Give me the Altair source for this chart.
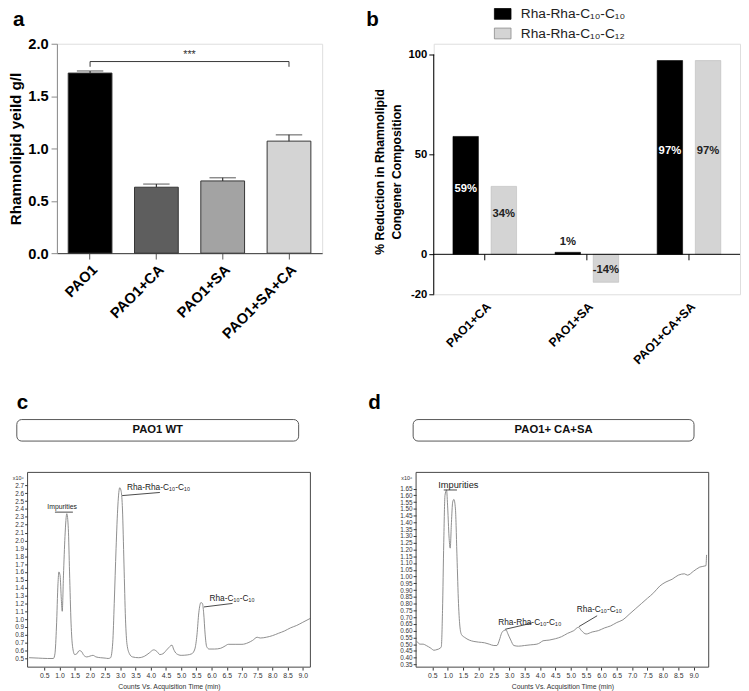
import altair as alt
import pandas as pd

FONT = "Liberation Sans"

# ---------------- data: panel a ----------------
a_groups = ["PAO1", "PAO1+CA", "PAO1+SA", "PAO1+SA+CA"]
a_values = [1.72, 0.63, 0.69, 1.07]
a_errors = [0.02, 0.03, 0.03, 0.06]
a_colors = ["#000000", "#5e5e5e", "#a3a3a3", "#d4d4d4"]
a_yticks = [0.0, 0.5, 1.0, 1.5, 2.0]
a_sig_level = [1.78, 1.83]
a_sig_text = "***"

# ---------------- data: panel b ----------------
b_groups = ["PAO1+CA", "PAO1+SA", "PAO1+CA+SA"]
b_series = ["Rha-Rha-C₁₀-C₁₀", "Rha-Rha-C₁₀-C₁₂"]
b_c10c10 = [59, 1, 97]
b_c10c12 = [34, -14, 97]
b_colors = ["#000000", "#d4d4d4"]
b_yticks = [-20, 0, 50, 100]
b_ytitle = ["% Reduction in Rhamnolipid", "Congener Composition"]

# ---------------- data: panel c (PAO1 WT chromatogram) ----------------
c_time = [0.0, 0.3, 0.6, 0.8, 0.85, 0.9, 0.95, 0.98, 1.02, 1.06, 1.09, 1.13, 1.18, 1.24,
          1.29, 1.33, 1.38, 1.43, 1.5, 1.57, 1.65, 1.72, 1.8, 1.9, 2.0, 2.1, 2.2, 2.35,
          2.5, 2.6, 2.68, 2.75, 2.8, 2.86, 2.92, 2.98, 3.03, 3.07, 3.12, 3.17, 3.22, 3.3,
          3.4, 3.6, 3.8, 3.95, 4.1, 4.2, 4.3, 4.4, 4.55, 4.7, 4.75, 4.85, 5.0, 5.2, 5.35,
          5.45, 5.52, 5.58, 5.65, 5.7, 5.74, 5.79, 5.84, 5.92, 6.1, 6.3, 6.45, 6.55, 6.8,
          7.0, 7.2, 7.35, 7.5, 7.6, 7.8, 8.0, 8.2, 8.4, 8.6, 8.8, 9.0, 9.25]
c_signal = [0.51, 0.505, 0.50, 0.50, 0.56, 0.9, 1.45, 1.60, 1.55, 1.25, 1.10, 1.55, 2.05, 2.34,
            2.15, 1.6, 0.95, 0.65, 0.55, 0.56, 0.60, 0.59, 0.54, 0.52, 0.53, 0.54, 0.52, 0.51,
            0.505, 0.50, 0.51, 0.7, 1.2, 1.9, 2.45, 2.67, 2.62, 2.4, 1.7, 1.0, 0.68, 0.56,
            0.52, 0.51, 0.53, 0.57, 0.61, 0.59, 0.55, 0.56, 0.62, 0.67, 0.62, 0.56, 0.54, 0.545, 0.56,
            0.62, 0.8, 1.08, 1.21, 1.2, 1.08, 0.8, 0.65, 0.62, 0.62, 0.63, 0.66, 0.68, 0.68,
            0.68, 0.70, 0.73, 0.77, 0.76, 0.77, 0.79, 0.82, 0.85, 0.89, 0.92, 0.96, 1.01]
c_xticks = [0.5, 1.0, 1.5, 2.0, 2.5, 3.0, 3.5, 4.0, 4.5, 5.0, 5.5, 6.0, 6.5, 7.0, 7.5, 8.0, 8.5, 9.0]
c_yticks = [0.5, 0.6, 0.7, 0.8, 0.9, 1.0, 1.1, 1.2, 1.3, 1.4, 1.5, 1.6, 1.7, 1.8, 1.9, 2.0,
            2.1, 2.2, 2.3, 2.4, 2.5, 2.6, 2.7]
c_labels = ["Impurities", "Rha-Rha-C₁₀-C₁₀", "Rha-C₁₀-C₁₀"]
c_label_t = [0.6, 3.22, 5.93]
c_label_s = [2.42, 2.68, 1.27]
c_label_size = [7, 8.5, 8.5]
c_lead_t1 = [0.85, 3.06, 5.75]
c_lead_s1 = [2.36, 2.57, 1.155]
c_lead_t2 = [1.44, 4.3, 6.69]
c_lead_s2 = [2.36, 2.61, 1.20]

# ---------------- data: panel d (PAO1+CA+SA chromatogram) ----------------
d_time = [0.0, 0.1, 0.2, 0.3, 0.45, 0.55, 0.65, 0.75, 0.79, 0.83, 0.87, 0.91, 0.96, 1.0,
          1.04, 1.08, 1.12, 1.16, 1.2, 1.25, 1.3, 1.35, 1.4, 1.45, 1.55, 1.7, 1.85, 2.0,
          2.2, 2.35, 2.5, 2.6, 2.68, 2.75, 2.82, 2.9, 2.95, 3.05, 3.15, 3.3, 3.5, 3.7, 3.9,
          4.0, 4.1, 4.3, 4.5, 4.7, 4.9, 5.1, 5.25, 5.35, 5.5, 5.7, 5.9, 6.1, 6.3, 6.5, 6.7,
          6.9, 7.1, 7.3, 7.5, 7.7, 7.9, 8.1, 8.3, 8.5, 8.7, 8.8, 9.0, 9.2, 9.4, 9.42]
d_signal = [0.52, 0.50, 0.50, 0.49, 0.47, 0.455, 0.46, 0.47, 0.48, 0.75, 1.25, 1.6, 1.64, 1.5,
            1.3, 1.21, 1.4, 1.55, 1.57, 1.5, 1.15, 0.8, 0.62, 0.57, 0.55, 0.53, 0.52, 0.515,
            0.51, 0.50, 0.49, 0.49, 0.53, 0.58, 0.60, 0.605, 0.58, 0.53, 0.49, 0.485, 0.49, 0.495, 0.50,
            0.51, 0.525, 0.53, 0.54, 0.555, 0.58, 0.60, 0.625, 0.60, 0.575, 0.59, 0.60, 0.62, 0.635, 0.66, 0.68,
            0.72, 0.76, 0.80, 0.84, 0.88, 0.93, 0.96, 0.98, 1.01, 1.02, 1.01, 1.04, 1.07, 1.08, 1.16]
d_xticks = c_xticks
d_yticks = [0.35, 0.40, 0.45, 0.50, 0.55, 0.60, 0.65, 0.70, 0.75, 0.80, 0.85, 0.90, 0.95, 1.00,
            1.05, 1.10, 1.15, 1.20, 1.25, 1.30, 1.35, 1.40, 1.45, 1.50, 1.55, 1.60, 1.65]
d_labels = ["Impurities", "Rha-Rha-C₁₀-C₁₀", "Rha-C₁₀-C₁₀"]
d_label_t = [0.69, 2.64, 5.2]
d_label_s = [1.68, 0.66, 0.76]
d_label_size = [9.5, 8.5, 8.5]
d_lead_t1 = [0.87, 2.87, 5.27]
d_lead_s1 = [1.64, 0.61, 0.63]
d_lead_t2 = [1.30, 3.73, 5.86]
d_lead_s2 = [1.64, 0.655, 0.71]


# ---------------- helpers ----------------
def one(**kw):
    return pd.DataFrame({k: [v] for k, v in kw.items()})


def panel_label(ch, dx, dy):
    return alt.Chart(one(t=ch)).mark_text(
        font=FONT, fontSize=21, fontWeight="bold", align="left", baseline="alphabetic", color="#000"
    ).encode(x=alt.value(dx), y=alt.value(dy), text="t:N")


def title_box(label, x1, x2, y1, y2):
    d = one(t=label)
    box = alt.Chart(d).mark_rect(fill="white", stroke="#555", strokeWidth=1, cornerRadius=5).encode(
        x=alt.value(x1), x2=alt.value(x2), y=alt.value(y1), y2=alt.value(y2))
    txt = alt.Chart(d).mark_text(font=FONT, fontSize=11.5, fontWeight="bold", align="center",
                                 baseline="middle", color="#111").encode(
        x=alt.value((x1 + x2) / 2), y=alt.value((y1 + y2) / 2), text="t:N")
    return [box, txt]


# ---------------- panel a ----------------
A_W, A_H = 271, 214
dfa = pd.DataFrame({"group": a_groups, "value": a_values,
                    "upper": [v + e for v, e in zip(a_values, a_errors)]})
xa_scale = alt.Scale(domain=a_groups, paddingInner=0.34, paddingOuter=0.17)
xa_axis = alt.Axis(title=None, labelAngle=-45, labelFontSize=15, labelFontWeight="bold",
                   labelColor="#000", domainColor="#333", tickColor="#555", tickSize=6,
                   labelPadding=3)
ya_scale = alt.Scale(domain=[0, 2], nice=False)
ya_axis = alt.Axis(title="Rhamnolipid yeild g/l", values=a_yticks, format=".1f", labelFontSize=15,
                   labelFontWeight="bold", labelColor="#000", titleFontSize=15.5,
                   titleFontWeight="bold", titleColor="#000", domainColor="#888",
                   tickColor="#888", tickSize=6, labelPadding=3, titlePadding=4, grid=False)

bars_a = alt.Chart(dfa).mark_bar(stroke="#333", strokeWidth=1).encode(
    x=alt.X("group:N", sort=a_groups, scale=xa_scale, axis=xa_axis),
    y=alt.Y("value:Q", scale=ya_scale, axis=ya_axis),
    color=alt.Color("group:N", scale=alt.Scale(domain=a_groups, range=a_colors), legend=None))
err_a = alt.Chart(dfa).mark_rule(color="#333", strokeWidth=1.2).encode(
    x=alt.X("group:N", sort=a_groups, axis=xa_axis),
    y=alt.Y("upper:Q", axis=ya_axis), y2="value:Q")
cap_a = alt.Chart(dfa).mark_tick(color="#333", size=27, thickness=1.2).encode(
    x=alt.X("group:N", sort=a_groups, axis=xa_axis),
    y=alt.Y("upper:Q", axis=ya_axis))
sig_df = pd.DataFrame({"group": [a_groups[0], a_groups[0], a_groups[3], a_groups[3]],
                       "lvl": [a_sig_level[0], a_sig_level[1], a_sig_level[1], a_sig_level[0]],
                       "o": [0, 1, 2, 3]})
sig_a = alt.Chart(sig_df).mark_line(color="#333", strokeWidth=1).encode(
    x=alt.X("group:N", sort=a_groups, axis=xa_axis),
    y=alt.Y("lvl:Q", axis=ya_axis), order="o:Q")
star_a = alt.Chart(one(t=a_sig_text, lvl=1.89)).mark_text(
    font=FONT, fontSize=11, color="#333", baseline="middle").encode(
    x=alt.value(A_W * 0.5), y=alt.Y("lvl:Q", axis=ya_axis), text="t:N")

panel_a = alt.layer(bars_a, err_a, cap_a, sig_a, star_a, panel_label("a", -45, -18)).properties(
    width=A_W, height=A_H)

# ---------------- panel b ----------------
B_W = 313
B_TOP = 105.4
B_H = 256
BAR_W = 26
BAR_SHIFT = 19.5
dfb = pd.DataFrame({"group": b_groups * 2,
                    "series": [b_series[0]] * 3 + [b_series[1]] * 3,
                    "sidx": [0] * 3 + [1] * 3,
                    "value": b_c10c10 + b_c10c12})
xb_scale = alt.Scale(domain=b_groups, paddingInner=0, paddingOuter=0)
xb_axis = alt.Axis(title=None, labelAngle=-45, labelFontSize=12.5, labelFontWeight="bold",
                   labelColor="#000", domain=False, ticks=False, labelPadding=6)
yb_scale = alt.Scale(domain=[-20, B_TOP], nice=False)
yb_axis = alt.Axis(title=None, values=b_yticks, labelExpr="toString(datum.value)",
                   labelFontSize=11.5, labelFontWeight="bold", labelColor="#000",
                   domain=False, tickColor="#000", tickSize=5, labelPadding=2, grid=False)

base_b = alt.Chart(dfb).transform_calculate(
    lbl="toString(datum.value) + '%'",
    ly="datum.value >= 5 ? datum.value / 2 + 3 : (datum.value <= -5 ? datum.value / 2 - 1 : datum.value + 5)",
    tc="(datum.sidx == 0 && datum.value >= 5) ? '#ffffff' : '#222222'")
b_layers = []
for k, shift in enumerate([-BAR_SHIFT, BAR_SHIFT]):
    sub = base_b.transform_filter(f"datum.sidx == {k}")
    b_layers.append(sub.mark_bar(width=BAR_W, xOffset=shift, color=b_colors[k],
                                 stroke=("#000" if k == 0 else "#bbbbbb"), strokeWidth=0.6).encode(
        x=alt.X("group:N", sort=b_groups, scale=xb_scale, axis=xb_axis),
        y=alt.Y("value:Q", scale=yb_scale, axis=yb_axis)))
    b_layers.append(sub.mark_text(font=FONT, fontSize=11.5, fontWeight="bold", baseline="middle",
                                  xOffset=shift).encode(
        x=alt.X("group:N", sort=b_groups, axis=xb_axis),
        y=alt.Y("ly:Q", axis=yb_axis),
        text="lbl:N",
        color=alt.Color("tc:N", scale=None)))
zero_b = alt.Chart(one(z=0)).mark_rule(color="#000", strokeWidth=1).encode(
    y=alt.Y("z:Q", axis=yb_axis))
yline_b = alt.Chart(one(lo=b_yticks[0], hi=b_yticks[-1])).mark_rule(
    color="#000", strokeWidth=1).encode(x=alt.value(0), y=alt.Y("lo:Q", axis=yb_axis), y2="hi:Q")
ticks_b = alt.Chart(pd.DataFrame({"group": b_groups, "z": [0] * 3, "zz": [-3] * 3})).mark_rule(
    color="#000", strokeWidth=1).encode(
    x=alt.X("group:N", sort=b_groups, axis=xb_axis, bandPosition=0.5),
    y=alt.Y("z:Q", axis=yb_axis), y2="zz:Q")

ytitle_b = [alt.Chart(one(t=line)).mark_text(
    font=FONT, fontSize=12.5, fontWeight="bold", angle=270, align="center", baseline="middle",
    color="#000").encode(x=alt.value(xp), y=alt.value(131), text="t:N")
    for line, xp in zip(b_ytitle, [-55, -37])]

LEG_X, LEG_Y, LEG_STEP = 62, -36, 20
leg_layers = []
for k, name in enumerate(b_series):
    y0 = LEG_Y + k * LEG_STEP
    leg_layers.append(alt.Chart(one(s=name)).mark_rect(
        fill=b_colors[k], stroke=("#000" if k == 0 else "#888"), strokeWidth=0.8).encode(
        x=alt.value(LEG_X), x2=alt.value(LEG_X + 17), y=alt.value(y0), y2=alt.value(y0 + 11)))
    leg_layers.append(alt.Chart(one(s=name)).mark_text(
        font=FONT, fontSize=14, align="left", baseline="middle", color="#222").encode(
        x=alt.value(LEG_X + 27), y=alt.value(y0 + 6), text="s:N"))

panel_b = alt.layer(*b_layers, zero_b, yline_b, ticks_b, *ytitle_b, *leg_layers,
                    panel_label("b", -69, -18)).properties(width=B_W, height=B_H)


# ---------------- panels c, d (one view, each panel on its own scales) ----------------
CD_H = 199


def chromatogram(times, signal, xticks, yticks, ydom, xdom, yfmt, lab, lab_t, lab_s, lab_size,
                 t1, s1, t2, s2, x0, W, letter, letter_x, box_label, box_x1, box_x2):
    # x0: left edge of this panel's frame inside the shared view
    df = pd.DataFrame({"t": times, "s": signal})
    xax = alt.Axis(title="Counts Vs. Acquisition Time (min)", values=xticks, format=".1f",
                   orient="bottom", labelFontSize=7, labelColor="#333", titleFontSize=7,
                   titleColor="#333", titleFontWeight="normal", tickColor="#333", tickSize=3,
                   domain=False, labelPadding=2, titlePadding=4, grid=False, labelOverlap=False)
    yax = alt.Axis(title=None, values=yticks, format=yfmt, orient="left", labelFontSize=6.5,
                   labelColor="#333", tickColor="#333", tickSize=3, domain=False, labelPadding=1,
                   grid=False, labelOverlap=False, offset=-x0)
    xs = alt.Scale(domain=xdom, nice=False, zero=False, range=[x0, x0 + W])
    ys = alt.Scale(domain=ydom, nice=False, zero=False, range=[CD_H, 0])
    line = alt.Chart(df).mark_line(color="#808080", strokeWidth=0.9, interpolate="monotone").encode(
        x=alt.X("t:Q", scale=xs, axis=xax), y=alt.Y("s:Q", scale=ys, axis=yax))
    dl = pd.DataFrame({"t1": t1, "s1": s1, "t2": t2, "s2": s2})
    leads = alt.Chart(dl).mark_rule(color="#333", strokeWidth=0.9).encode(
        x=alt.X("t1:Q", scale=xs, axis=xax), x2="t2:Q",
        y=alt.Y("s1:Q", scale=ys, axis=yax), y2="s2:Q")
    dt = pd.DataFrame({"lab": lab, "t": lab_t, "s": lab_s, "fs": lab_size})
    texts = alt.Chart(dt).mark_text(font=FONT, align="left", baseline="middle", color="#222").encode(
        x=alt.X("t:Q", scale=xs, axis=xax),
        y=alt.Y("s:Q", scale=ys, axis=yax), text="lab:N",
        size=alt.Size("fs:Q", scale=None, legend=None))
    frame = alt.Chart(one(k=0)).mark_rect(fill="transparent", stroke="#444", strokeWidth=1).encode(
        x=alt.value(x0), x2=alt.value(x0 + W), y=alt.value(0), y2=alt.value(CD_H))
    unit = alt.Chart(one(u="x10⁶")).mark_text(
        font=FONT, fontSize=5.5, align="right", baseline="middle", color="#333").encode(
        x=alt.value(x0 - 4), y=alt.value(6), text="u:N")
    return alt.layer(line, leads, texts, frame, unit,
                     *title_box(box_label, box_x1, box_x2, -54, -32),
                     panel_label(letter, letter_x, -65))


C_X0, C_W = -30, 289
D_X0, D_W = 367, 299
group_c = chromatogram(c_time, c_signal, c_xticks, c_yticks, [0.39, 2.865], [-0.05, 9.25], ".1f",
                       c_labels, c_label_t, c_label_s, c_label_size,
                       c_lead_t1, c_lead_s1, c_lead_t2, c_lead_s2,
                       C_X0, C_W, "c", -41, "PAO1 WT", -41, 247)
group_d = chromatogram(d_time, d_signal, d_xticks, d_yticks, [0.33, 1.77], [-0.03, 9.49], ".2f",
                       d_labels, d_label_t, d_label_s, d_label_size,
                       d_lead_t1, d_lead_s1, d_lead_t2, d_lead_s2,
                       D_X0, D_W, "d", 318, "PAO1+ CA+SA", 364, 651)
bottom = alt.layer(group_c, group_d).resolve_scale(
    x="independent", y="independent").properties(
    width=D_X0 + D_W, height=CD_H,
    view=alt.ViewBackground(stroke="transparent", fill="transparent"))

top = alt.hconcat(panel_a, panel_b, spacing=43)
chart = alt.vconcat(top, bottom, spacing=24).properties(
    padding={"left": 0, "top": -9, "right": 0, "bottom": 0}
).configure_view(stroke=None).configure(font=FONT)

chart.save("out.html", embed_options={"renderer": "svg", "actions": False})
